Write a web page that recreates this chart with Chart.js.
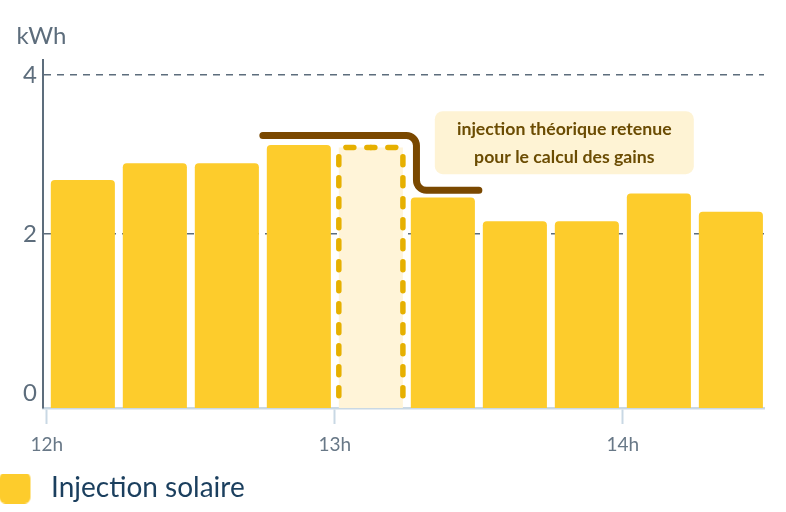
<!DOCTYPE html>
<html lang="fr">
  <head>
    <meta charset="UTF-8" />
    <title>Injection solaire</title>
    <script src="https://cdn.jsdelivr.net/npm/chart.js@4.4.0/dist/chart.umd.min.js"></script>
    <style>
      body { margin: 0; background: #fff; }
      #chart { display: block; }
    </style>
  </head>
  <body>
    <canvas id="chart" width="786" height="512"></canvas>
    <script>
      // minutes after 12h (middle of each 15 min slot)
      const slotMinutes = [7.5, 22.5, 37.5, 52.5, 67.5, 82.5, 97.5, 112.5, 127.5, 142.5];
      const injectionKwh = [2.68, 2.89, 2.89, 3.12, null, 2.46, 2.16, 2.16, 2.51, 2.28];
      const theoreticalKwh = [null, null, null, null, 3.09, null, null, null, null, null];
      // stepped line "injection théorique retenue"
      const retainedMinutes = [45, 77, 77, 90];
      const retainedKwh = [3.24, 3.24, 2.55, 2.55];
      const xTickValues = [0, 60, 120];
      const xTickLabels = ["12h", "13h", "14h"];
      const yTickValues = [0, 2, 4];
      const noteLines = ["injection théorique retenue", "pour le calcul des gains"];
      const noteAt = [107.8, 3.15];

      const yMin = -0.19;
      const yMax = 4.19;
      const yellow = "#fdcc2c";
      const slate = "#5d6d7c";

      // legend swatch: rounded square, a bit of room on its right
      const swatch = document.createElement("canvas");
      swatch.width = 38;
      swatch.height = 31;
      const sctx = swatch.getContext("2d");
      sctx.fillStyle = yellow;
      sctx.beginPath();
      sctx.roundRect(0, 0, 31, 31, 6);
      sctx.fill();

      const overlay = {
        id: "overlay",
        afterDatasetsDraw(chart) {
          const { ctx, chartArea, scales } = chart;
          const { x, y } = scales;

          // dashed outline of the theoretical bar, drawn from top middle both ways
          const idx = theoreticalKwh.findIndex((v) => v !== null);
          const bar = chart.getDatasetMeta(1).data[idx];
          const l = bar.x - bar.width / 2;
          const r = bar.x + bar.width / 2;
          const t = bar.y;
          const b = bar.base;
          ctx.save();
          ctx.beginPath();
          ctx.rect(chartArea.left, 0, chartArea.width, chartArea.bottom - 1);
          ctx.clip();
          ctx.setLineDash([8, 13]);
          ctx.lineDashOffset = 4;
          ctx.lineCap = "round";
          ctx.lineWidth = 5.5;
          ctx.strokeStyle = "#e6b000";
          [l, r].forEach((side) => {
            ctx.beginPath();
            ctx.moveTo(bar.x, t);
            ctx.arcTo(side, t, side, b, 8);
            ctx.lineTo(side, b);
            ctx.stroke();
          });
          ctx.restore();

          // retained line
          const pts = retainedMinutes.map((m, i) => [
            x.getPixelForValue(m),
            y.getPixelForValue(retainedKwh[i]),
          ]);
          ctx.save();
          ctx.beginPath();
          ctx.moveTo(pts[0][0], pts[0][1]);
          for (let i = 1; i < pts.length - 1; i++) {
            ctx.arcTo(pts[i][0], pts[i][1], pts[i + 1][0], pts[i + 1][1], 10);
          }
          ctx.lineTo(pts[pts.length - 1][0], pts[pts.length - 1][1]);
          ctx.lineWidth = 7;
          ctx.lineCap = "round";
          ctx.strokeStyle = "#7a4800";
          ctx.stroke();
          ctx.restore();

          // note box
          const cx = x.getPixelForValue(noteAt[0]);
          const cy = y.getPixelForValue(noteAt[1]);
          ctx.save();
          ctx.fillStyle = "#fef3d4";
          ctx.beginPath();
          ctx.roundRect(cx - 129.5, cy - 31.5, 259, 63, 8);
          ctx.fill();
          ctx.fillStyle = "#6b4c03";
          ctx.font = "bold 17.7px Lato";
          ctx.textAlign = "center";
          ctx.textBaseline = "middle";
          ctx.fillText(noteLines[0], cx, cy - 13);
          ctx.fillText(noteLines[1], cx, cy + 15);
          ctx.restore();
        },
        afterDraw(chart) {
          const { ctx, chartArea } = chart;
          ctx.save();
          ctx.fillStyle = slate;
          ctx.font = "24px Lato";
          ctx.textAlign = "left";
          ctx.textBaseline = "alphabetic";
          ctx.fillText("kWh", chartArea.left - 26.5, 43.5);
          ctx.restore();
        },
      };

      new Chart(document.getElementById("chart"), {
        type: "bar",
        data: {
          datasets: [
            {
              label: "Injection solaire",
              data: slotMinutes.map((m, i) => ({ x: m, y: injectionKwh[i] })),
              backgroundColor: yellow,
              borderRadius: 4,
              base: yMin,
            },
            {
              label: "Injection théorique",
              data: slotMinutes.map((m, i) => ({ x: m, y: theoreticalKwh[i] })),
              backgroundColor: "#fff4d8",
              borderWidth: 0,
              base: yMin,
            },
          ],
        },
        options: {
          responsive: false,
          animation: false,
          datasets: {
            bar: { grouped: false, categoryPercentage: 1, barPercentage: 0.89 },
          },
          layout: { padding: { top: 60, right: 22, left: 0, bottom: 0 } },
          scales: {
            x: {
              type: "linear",
              offset: false,
              min: -0.8,
              max: 149.4,
              afterBuildTicks: (s) => {
                s.ticks = xTickValues.map((v) => ({ value: v }));
              },
              afterFit: (s) => {
                s.height = 66;
              },
              grid: {
                offset: false,
                drawOnChartArea: false,
                drawTicks: true,
                tickLength: 16,
                tickWidth: 2,
                tickColor: "#c9d8e4",
                color: "#c9d8e4",
              },
              border: { color: "#c9d8e4", width: 2.5 },
              ticks: {
                padding: 9,
                color: "#687887",
                font: { family: "Lato", size: 19 },
                maxRotation: 0,
                autoSkip: false,
                callback: (v, i) => xTickLabels[i],
              },
            },
            y: {
              min: yMin,
              max: yMax,
              afterBuildTicks: (s) => {
                s.ticks = yTickValues.map((v) => ({ value: v }));
              },
              afterFit: (s) => {
                s.width = 43;
              },
              grid: {
                drawTicks: false,
                lineWidth: 1.5,
                color: (c) => (c.tick && c.tick.value === 0 ? "transparent" : slate),
              },
              border: { color: slate, width: 2, dash: [7, 6] },
              ticks: {
                padding: 6,
                color: slate,
                font: { family: "Lato", size: 24 },
              },
            },
          },
          plugins: {
            tooltip: { enabled: false },
            legend: {
              position: "bottom",
              align: "start",
              labels: {
                usePointStyle: true,
                pointStyle: swatch,
                pointStyleWidth: 37,
                padding: 0,
                color: "#1b3f5e",
                font: { family: "Lato", size: 28 },
                filter: (item) => item.datasetIndex === 0,
              },
            },
          },
        },
        plugins: [overlay],
      });
    </script>
  </body>
</html>
